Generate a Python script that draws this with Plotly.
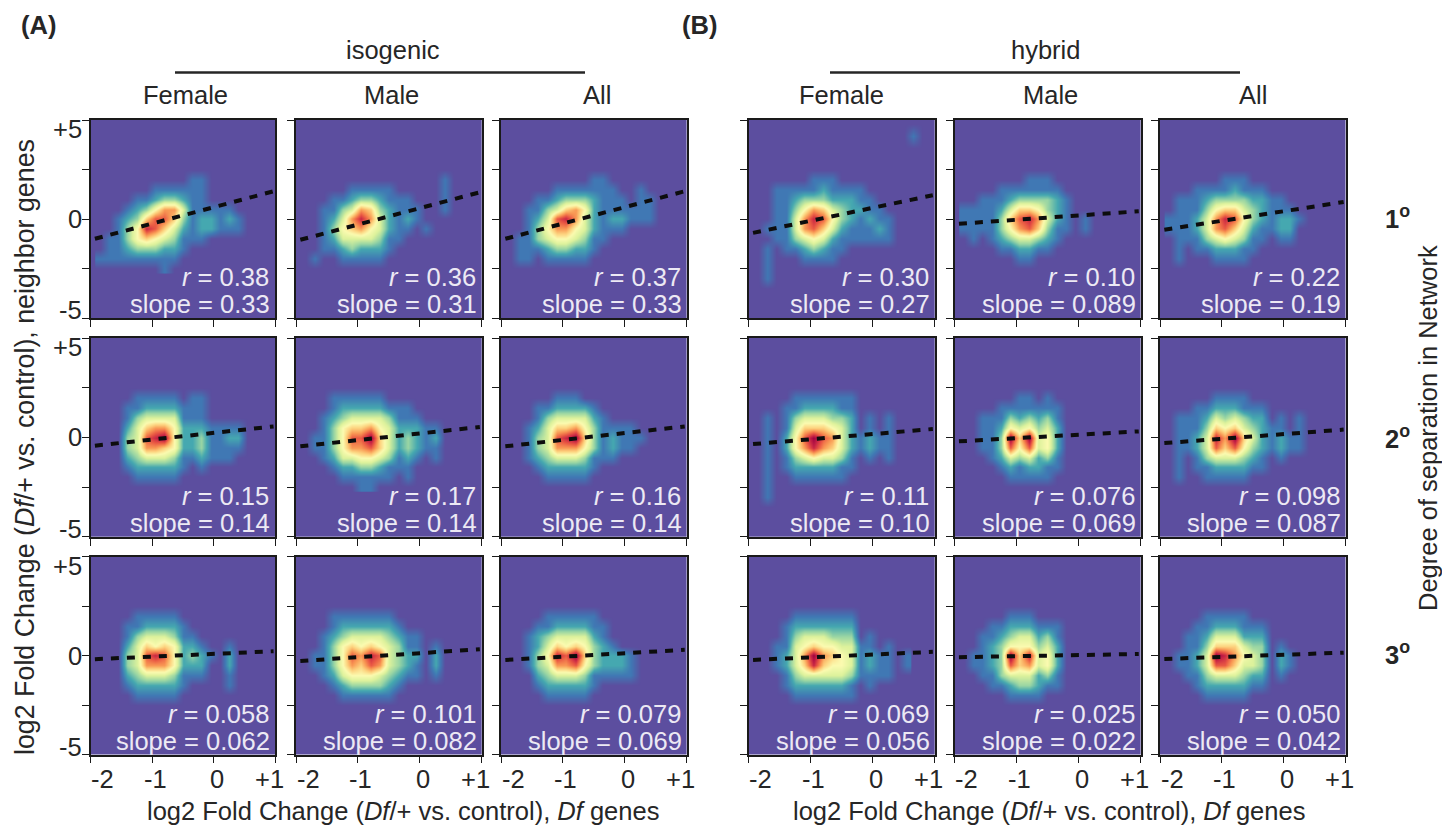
import plotly.graph_objects as go

# density grid (levels 0-10), rows run from y=+2.5 down to y=-2.5
GRID_X = [-1.85,-1.7,-1.55,-1.4,-1.25,-1.1,-0.95,-0.8,-0.65,-0.5,-0.35,-0.2,-0.05,0.1,0.25,0.4,0.55]
GRID_Y = [2.5,2,1.5,1,0.5,0,-0.5,-1,-1.5,-2,-2.5]
Z0 = [0]*17

AF1 = [Z0,[0,0,0,0,0,0,0,0,0,0,1,1,0,0,0,0,0],[0,0,0,0,0,0,1,1,1,1,1,1,0,0,0,0,0],[0,0,0,0,1,1,2,3,3,2,1,1,0,0,0,0,0],[0,0,0,1,2,3,5,7,7,4,1,1,1,1,1,0,0],[0,0,1,2,3,6,8,8,6,3,1,2,2,1,2,1,0],[0,0,1,3,5,9,8,6,4,2,1,2,2,1,1,1,0],[0,1,1,3,5,6,5,4,3,1,1,1,0,0,0,0,0],[0,1,1,2,3,3,3,2,2,1,0,0,0,0,0,0,0],[1,1,1,1,1,1,1,1,1,0,0,0,0,0,0,0,0],[0,0,0,0,0,0,0,1,0,0,0,0,0,0,0,0,0]]
AM1 = [Z0,[0,0,0,0,0,0,0,0,0,0,0,0,0,0,0,1,0],[0,0,0,0,0,1,1,1,1,1,0,0,0,0,0,1,0],[0,0,0,1,1,2,3,3,2,1,1,1,0,0,0,1,0],[0,0,1,1,3,4,7,6,3,2,1,1,1,0,0,1,0],[0,0,1,2,4,7,9,7,4,2,1,2,1,0,0,0,0],[0,0,1,3,5,6,7,5,4,2,1,1,0,1,0,0,0],[0,0,1,2,4,4,4,4,3,1,1,0,0,0,0,0,0],[0,0,1,1,2,3,2,2,2,1,0,0,0,0,0,0,0],[0,1,0,0,1,1,1,1,1,0,0,0,0,0,0,0,0],Z0]
AA1 = [Z0,[0,0,0,0,0,0,0,0,0,1,1,0,0,0,0,0,0],[0,0,0,0,0,1,1,1,1,1,1,1,0,0,1,0,0],[0,0,0,1,1,2,3,3,3,2,1,1,1,0,1,1,0],[0,0,1,1,3,4,6,7,5,2,1,1,1,1,1,1,0],[0,0,1,2,4,8,9,7,4,2,1,2,2,1,1,1,0],[0,0,1,3,5,7,7,5,4,2,1,1,1,0,0,0,0],[0,1,1,3,4,5,5,4,3,1,1,0,0,0,0,0,0],[0,1,1,1,2,3,3,2,2,1,0,0,0,0,0,0,0],[0,1,1,0,1,1,1,1,1,0,0,0,0,0,0,0,0],Z0]
BF1 = [Z0,[0,0,0,0,0,0,1,1,1,0,0,0,0,0,0,0,0],[0,0,1,1,1,1,1,2,1,1,1,1,0,0,0,0,0],[0,0,1,1,2,3,3,3,2,2,2,1,1,0,0,0,0],[0,0,1,1,3,5,7,6,4,3,2,2,1,1,0,0,0],[0,0,1,1,4,7,9,8,5,3,2,1,2,1,1,0,0],[0,1,1,1,4,7,8,6,4,2,1,1,1,2,1,0,0],[0,0,1,1,3,4,5,4,2,1,1,1,1,1,1,0,0],[0,1,0,1,1,2,3,2,1,1,0,0,0,0,0,0,0],[0,1,0,0,0,1,1,1,1,0,0,0,0,0,0,0,0],[0,1,0,0,0,0,0,0,0,0,0,0,0,0,0,0,0]]
BM1 = [Z0,[0,0,0,0,0,0,0,1,1,1,0,0,0,0,0,0,0],[0,0,0,0,1,1,1,1,1,1,1,0,0,0,0,0,0],[0,0,1,1,1,2,3,3,3,3,2,1,0,0,0,0,0],[1,1,1,1,2,4,6,6,5,3,2,1,0,0,0,0,0],[1,1,1,1,3,6,8,9,7,4,2,1,0,1,0,0,0],[1,1,1,1,3,5,7,8,6,3,1,1,0,1,0,0,0],[0,1,0,1,2,3,4,4,3,2,1,0,0,0,0,0,0],[0,0,0,0,1,1,2,2,1,1,0,0,0,0,0,0,0],[0,0,0,0,0,0,1,1,0,0,0,0,0,0,0,0,0],Z0]
BA1 = [Z0,[0,0,0,0,0,0,1,1,1,0,0,0,0,0,0,0,0],[0,0,0,1,1,1,1,2,1,1,1,0,0,0,0,0,0],[0,1,1,1,2,3,3,3,3,2,2,1,1,0,0,0,0],[0,1,1,1,3,5,6,6,4,3,2,1,1,1,0,0,0],[1,1,1,2,4,7,9,8,5,3,2,1,2,2,1,0,0],[1,1,1,2,4,7,8,6,4,2,1,1,2,2,0,0,0],[0,1,1,1,3,4,5,4,3,1,1,0,1,1,0,0,0],[0,1,0,1,1,2,2,2,1,1,0,0,0,0,0,0,0],[0,1,0,0,0,1,1,1,1,0,0,0,0,0,0,0,0],Z0]

AF2 = [Z0,[0,0,0,0,1,1,1,1,1,0,1,1,0,0,0,0,0],[0,0,0,1,1,2,2,2,2,1,1,1,0,0,0,0,0],[0,0,0,1,3,4,4,4,4,1,1,1,0,0,0,0,0],[0,0,0,2,4,6,7,7,5,2,2,2,1,1,1,1,0],[0,0,0,3,4,8,9,10,5,2,2,3,1,1,2,2,0],[0,0,0,3,4,7,7,6,5,2,2,3,1,1,1,1,0],[0,0,0,2,3,4,4,4,3,1,1,2,1,1,1,0,0],[0,0,0,1,2,2,2,2,2,1,0,1,0,0,0,0,0],[0,0,0,0,1,1,1,1,1,0,0,0,0,0,0,0,0],Z0]
AM2 = [Z0,[0,0,0,1,1,1,1,1,1,0,0,0,0,0,0,0,0],[0,0,0,1,2,2,2,2,2,1,1,1,0,0,0,0,0],[0,0,1,2,3,4,4,4,4,3,1,1,1,0,0,0,0],[0,0,1,3,5,6,6,7,5,4,2,2,2,1,1,0,0],[0,1,1,3,5,8,8,10,6,4,2,3,2,1,2,0,0],[0,1,1,3,5,7,7,8,6,4,2,3,2,1,1,0,0],[0,0,1,2,4,4,5,5,4,3,1,2,1,0,1,0,0],[0,0,0,1,2,2,3,3,2,1,1,1,0,0,0,0,0],[0,0,0,0,1,1,1,1,1,1,0,1,0,0,0,0,0],[0,0,0,0,0,0,1,1,0,0,0,0,0,0,0,0,0]]
AA2 = [Z0,[0,0,0,0,0,1,1,1,0,0,0,0,0,0,0,0,0],[0,0,0,1,1,2,2,2,2,1,0,0,0,0,0,0,0],[0,0,0,1,3,4,4,4,4,2,1,0,0,0,0,0,0],[0,0,1,2,4,6,6,7,5,3,1,1,1,1,0,0,0],[0,0,1,3,4,8,9,10,6,3,1,2,1,1,1,0,0],[0,0,1,3,4,7,7,7,5,3,1,2,1,1,0,0,0],[0,0,1,2,3,4,4,4,3,1,1,1,0,0,0,0,0],[0,0,0,1,2,2,2,2,2,1,0,0,0,0,0,0,0],[0,0,0,0,1,1,1,1,1,0,0,0,0,0,0,0,0],Z0]
BF2 = [Z0,[0,0,0,0,1,1,1,1,1,1,1,0,0,0,0,0,0],[0,0,0,1,1,2,2,2,2,1,1,0,0,0,0,0,0],[0,1,0,1,3,4,4,4,3,3,2,0,1,0,1,0,0],[0,1,0,1,4,6,6,6,5,4,2,0,1,0,1,0,0],[0,1,0,2,5,8,10,8,7,4,2,1,2,1,1,0,0],[0,1,0,2,5,7,9,7,6,4,2,1,2,1,1,0,0],[0,1,0,1,3,4,5,4,4,3,1,0,1,0,1,0,0],[0,1,0,1,2,2,2,2,2,1,1,0,0,0,0,0,0],[0,1,0,0,1,1,1,1,1,1,0,0,0,0,0,0,0],[0,1,0,0,0,0,0,0,0,0,0,0,0,0,0,0,0]]
BM2 = [Z0,[0,0,0,0,0,0,1,1,0,1,0,0,0,0,0,0,0],[0,0,0,0,1,1,1,1,1,1,1,0,0,0,0,0,0],[0,0,1,1,1,3,2,3,2,3,1,0,0,0,0,0,0],[0,0,1,1,2,5,4,5,3,4,2,0,0,0,0,0,0],[0,0,1,1,3,10,6,10,4,5,2,0,0,0,0,0,0],[0,0,1,1,3,8,5,8,4,5,2,0,0,0,0,0,0],[0,0,0,1,2,4,3,4,2,3,1,0,0,0,0,0,0],[0,0,0,0,1,2,1,2,2,1,1,0,0,0,0,0,0],[0,0,0,0,0,1,1,1,1,1,0,0,0,0,0,0,0],Z0]
BA2 = [Z0,[0,0,0,0,0,1,1,1,1,0,0,0,0,0,0,0,0],[0,0,0,1,1,2,2,2,1,1,1,0,0,0,0,0,0],[0,1,1,1,2,4,3,4,3,2,2,0,1,0,1,0,0],[0,1,1,1,3,6,5,6,4,3,2,1,1,0,1,0,0],[0,1,1,2,4,9,7,10,6,4,2,1,2,1,1,0,0],[0,1,1,2,4,8,6,8,5,3,2,1,2,1,1,0,0],[0,1,0,1,3,4,4,4,3,2,1,0,1,0,0,0,0],[0,1,0,1,1,2,2,2,2,1,1,0,0,0,0,0,0],[0,1,0,0,1,1,1,1,1,0,0,0,0,0,0,0,0],Z0]

AF3 = [Z0,[0,0,0,0,1,1,1,1,1,0,0,0,0,0,0,0,0],[0,0,0,1,1,2,2,2,2,1,0,0,0,0,0,0,0],[0,0,0,1,3,4,4,4,3,1,1,0,0,0,0,0,0],[0,0,0,2,4,6,5,6,5,2,2,1,0,0,1,0,0],[0,0,0,3,4,8,9,8,5,2,3,2,1,0,2,0,0],[0,0,0,3,4,7,7,7,5,2,2,2,0,0,2,0,0],[0,0,0,2,3,4,4,4,3,1,1,1,0,0,1,0,0],[0,0,0,1,2,2,2,2,2,1,0,0,0,0,1,0,0],[0,0,0,0,1,1,1,1,1,0,0,0,0,0,0,0,0],Z0]
AM3 = [Z0,[0,0,0,1,1,1,1,1,1,1,0,0,0,0,0,0,0],[0,0,0,1,2,2,2,2,2,2,1,0,0,0,0,0,0],[0,0,1,2,3,4,4,4,4,3,2,1,1,0,0,0,0],[0,0,1,3,5,6,5,6,5,4,3,1,1,0,1,0,0],[0,1,1,3,5,8,7,9,8,4,3,2,2,0,2,0,0],[0,1,1,3,5,7,6,8,7,4,3,2,1,0,2,0,0],[0,0,1,2,4,5,5,5,4,3,2,1,1,0,1,0,0],[0,0,0,1,2,3,3,3,3,2,1,0,0,0,0,0,0],[0,0,0,0,1,1,1,1,1,1,0,0,0,0,0,0,0],Z0]
AA3 = [Z0,[0,0,0,0,1,1,1,1,1,1,0,0,0,0,0,0,0],[0,0,0,1,1,2,2,2,2,1,1,0,0,0,0,0,0],[0,0,1,2,3,4,4,4,4,2,1,0,0,0,0,0,0],[0,0,1,2,4,6,5,6,5,3,2,1,0,0,0,0,0],[0,0,1,3,5,9,8,10,6,3,2,2,2,1,0,0,0],[0,0,1,3,4,7,7,8,5,3,2,2,2,1,0,0,0],[0,0,0,2,3,4,4,4,3,1,1,1,1,1,0,0,0],[0,0,0,1,2,2,2,2,2,1,0,0,0,0,0,0,0],[0,0,0,0,1,1,1,1,1,0,0,0,0,0,0,0,0],Z0]
BF3 = [Z0,[0,0,0,0,1,1,1,1,1,1,1,0,0,0,0,0,0],[0,0,0,1,2,2,2,2,2,2,2,0,0,0,0,0,0],[0,0,0,1,3,4,4,4,3,3,3,0,1,0,0,0,0],[0,0,1,1,4,5,6,5,5,4,4,1,1,0,1,0,0],[0,0,1,2,4,7,10,7,6,5,4,1,2,1,1,0,1],[0,0,1,2,4,6,9,6,5,5,4,1,2,1,1,0,1],[0,0,0,1,3,4,4,4,4,4,3,1,1,1,1,0,0],[0,0,0,1,2,2,2,2,2,2,1,0,1,0,0,0,0],[0,0,0,0,1,1,1,1,1,1,1,0,0,0,0,0,0],Z0]
BM3 = [Z0,[0,0,0,0,0,1,1,1,0,0,0,0,0,0,0,0,0],[0,0,0,1,1,2,2,2,1,1,1,0,0,0,0,0,0],[0,0,1,1,2,3,4,4,2,3,1,0,0,0,0,0,0],[0,0,1,2,3,5,5,5,3,4,2,0,0,0,0,0,0],[0,1,1,2,3,10,6,9,4,5,2,0,0,0,0,0,0],[0,1,1,2,3,8,6,7,4,5,2,0,0,0,0,0,0],[0,0,1,1,3,4,4,4,2,3,1,0,0,0,0,0,0],[0,0,0,1,1,2,3,3,2,1,1,0,0,0,0,0,0],[0,0,0,0,0,1,1,1,1,0,0,0,0,0,0,0,0],Z0]
BA3 = [Z0,[0,0,0,0,1,1,1,1,1,0,0,0,0,0,0,0,0],[0,0,0,1,1,2,2,2,1,1,1,0,0,0,0,0,0],[0,0,1,1,2,4,4,4,2,2,2,0,0,0,0,0,0],[0,0,1,1,3,6,6,6,4,3,3,0,1,0,0,0,0],[0,1,1,2,4,10,9,7,5,4,3,0,2,1,0,0,0],[0,1,1,2,4,8,8,6,4,4,3,0,2,1,0,0,0],[0,0,1,1,3,4,4,4,3,2,2,0,1,0,0,0,0],[0,0,0,1,2,2,2,2,2,1,1,0,0,0,0,0,0],[0,0,0,0,1,1,1,1,1,0,0,0,0,0,0,0,0],Z0]

# faint streaks outside the main grid, hybrid Female panels
LOW_X = [-1.85,-1.7,-1.55]
LOW_Y = [-2.5,-3,-3.5]
LOW_Z = [[0,1,0],[0,1,0],[0,0,0]]
TOP_X = [0.5,0.65,0.8]
TOP_Y = [4.8,4.2,3.6]
TOP_Z = [[0,0,0],[0,1,0],[0,0,0]]

PANELS = [[AF1,AM1,AA1,BF1,BM1,BA1],[AF2,AM2,AA2,BF2,BM2,BA2],[AF3,AM3,AA3,BF3,BM3,BA3]]
R_TEXT = [["0.38","0.36","0.37","0.30","0.10","0.22"],["0.15","0.17","0.16","0.11","0.076","0.098"],["0.058","0.101","0.079","0.069","0.025","0.050"]]
SLOPE_TEXT = [["0.33","0.31","0.33","0.27","0.089","0.19"],["0.14","0.14","0.14","0.10","0.069","0.087"],["0.062","0.082","0.069","0.056","0.022","0.042"]]
FIT_X = [-1.93,0.97]
FIT_START = [[-1.0,-1.05,-1.0,-0.7,-0.24,-0.54],[-0.42,-0.45,-0.45,-0.34,-0.2,-0.29],[-0.18,-0.27,-0.22,-0.22,-0.08,-0.17]]
FIT_END = [[1.4,1.35,1.4,1.2,0.39,0.86],[0.55,0.52,0.55,0.42,0.3,0.39],[0.22,0.32,0.29,0.19,0.08,0.15]]
X_TICKS = [-2,-1,0,1]
X_TICK_TEXT = ["-2","-1","0","+1"]
Y_TICKS = [-5,-2.5,0,2.5,5]
Y_LABELS = {5:"+5",0:"0",-5:"-5"}
COLUMN_TITLES = ["Female","Male","All","Female","Male","All"]
ROW_TITLES = ["1","2","3"]

LEVEL_COLORS = ["#5C4E9F","#4078B4","#45A8B0","#9AD6A4","#DDF29C","#FBFBB0","#FDD27E","#F99A55","#EA5A44","#C82545","#9E0142"]
SCALE = [[i/10,c] for i,c in enumerate(LEVEL_COLORS)]
FONT = "Liberation Sans, Arial, sans-serif"
TXT = "#262626"
W,H = 1442,826
COL_L = [90.6,296,501,748.7,954.6,1160]
COL_R = [275.4,481.7,686.6,934.7,1140.6,1345.5]
ROW_T = [120,338,556.7]
ROW_B = [318,536.7,754.5]
FS = 25.5

fig = go.Figure()
ann = []
def px(x): return x/W
def py(y): return 1-y/H
def note(x,y,t,size=FS,**k):
    ann.append(dict(x=px(x),y=py(y),xref="paper",yref="paper",xanchor="center",yanchor="middle",text=t,showarrow=False,font=dict(family=FONT,size=size,color=TXT),**k))

layout = {}
for r in range(3):
    for c in range(6):
        n = r*6+c+1
        xa,ya = f"x{n}",f"y{n}"
        common = dict(showline=True,mirror=True,linecolor="#1a1a1a",linewidth=1.6,ticks="outside",ticklen=7,tickwidth=1.3,tickcolor="#1a1a1a",showticklabels=False,showgrid=False,zeroline=False)
        layout[f"xaxis{n}"] = dict(domain=[px(COL_L[c]),px(COL_R[c])],range=[-2,1],tickvals=X_TICKS,anchor=ya,**common)
        layout[f"yaxis{n}"] = dict(domain=[py(ROW_B[r]),py(ROW_T[r])],range=[-5,5],tickvals=Y_TICKS,anchor=xa,**common)
        hm = dict(zmin=0,zmax=10,colorscale=SCALE,showscale=False,zsmooth="best",xaxis=xa,yaxis=ya,hoverinfo="skip")
        fig.add_trace(go.Heatmap(x=GRID_X,y=GRID_Y[::-1],z=PANELS[r][c][::-1],**hm))
        if c==3 and r<2:
            fig.add_trace(go.Heatmap(x=LOW_X,y=LOW_Y[::-1],z=LOW_Z[::-1],**hm))
        if c==3 and r==0:
            fig.add_trace(go.Heatmap(x=TOP_X,y=TOP_Y[::-1],z=TOP_Z[::-1],**hm))
        fig.add_trace(go.Scatter(x=FIT_X,y=[FIT_START[r][c],FIT_END[r][c]],mode="lines",line=dict(color="#0d0d0d",width=4,dash="8px,8px"),xaxis=xa,yaxis=ya,hoverinfo="skip",showlegend=False))
        white = "#ECE9F4"
        ann.append(dict(x=1,y=-5,xref=xa,yref=ya,xanchor="right",yanchor="middle",xshift=-4,yshift=41,text=f"<i>r</i> = {R_TEXT[r][c]}",showarrow=False,font=dict(family=FONT,size=FS,color=white)))
        ann.append(dict(x=1,y=-5,xref=xa,yref=ya,xanchor="right",yanchor="middle",xshift=-3,yshift=14,text=f"slope = {SLOPE_TEXT[r][c]}",showarrow=False,font=dict(family=FONT,size=FS,color=white)))
        if r==2:
            for v,t,s in zip(X_TICKS,X_TICK_TEXT,[12,3,3,-6]):
                ann.append(dict(x=v,y=-5,xref=xa,yref=ya,xanchor="center",yanchor="middle",text=t,showarrow=False,xshift=s,yshift=-24,font=dict(family=FONT,size=FS,color=TXT)))
        if c==0:
            for v,s in zip([5,0,-5],[-9,0,8]):
                ann.append(dict(x=-2,y=v,xref=xa,yref=ya,text=Y_LABELS[v],showarrow=False,xanchor="right",yanchor="middle",xshift=-7,yshift=s,font=dict(family=FONT,size=FS,color=TXT)))

for x,t in zip([185,391,597,841,1050,1253],COLUMN_TITLES):
    note(x,95,t)
note(393,50,"isogenic"); note(1045,50,"hybrid")
note(38,25,"<b>(A)</b>"); note(699,25,"<b>(B)</b>")
note(403,811,"log2 Fold Change (<i>Df</i>/+ vs. control), <i>Df</i> genes")
note(1049,811,"log2 Fold Change (<i>Df</i>/+ vs. control), <i>Df</i> genes")
note(25,447,"log2 Fold Change (<i>Df</i>/+ vs. control), neighbor genes",textangle=-90,size=26.8)
note(1428,428,"Degree of separation in Network",textangle=-90)
for y,t in zip([217,437,653],ROW_TITLES):
    note(1397,y,f"<b>{t}<sup>o</sup></b>")

shapes = [dict(type="line",xref="paper",yref="paper",x0=px(a),x1=px(b),y0=py(72.5),y1=py(72.5),line=dict(color="#262626",width=2.6)) for a,b in [(175,585),(830,1240)]]

fig.update_layout(width=W,height=H,margin=dict(l=0,r=0,t=0,b=0),paper_bgcolor="white",plot_bgcolor=LEVEL_COLORS[0],showlegend=False,annotations=ann,shapes=shapes,**layout)
fig.write_html("out.html",config=dict(displayModeBar=False),post_script="document.body.style.margin='0';document.documentElement.style.overflow='hidden';")
